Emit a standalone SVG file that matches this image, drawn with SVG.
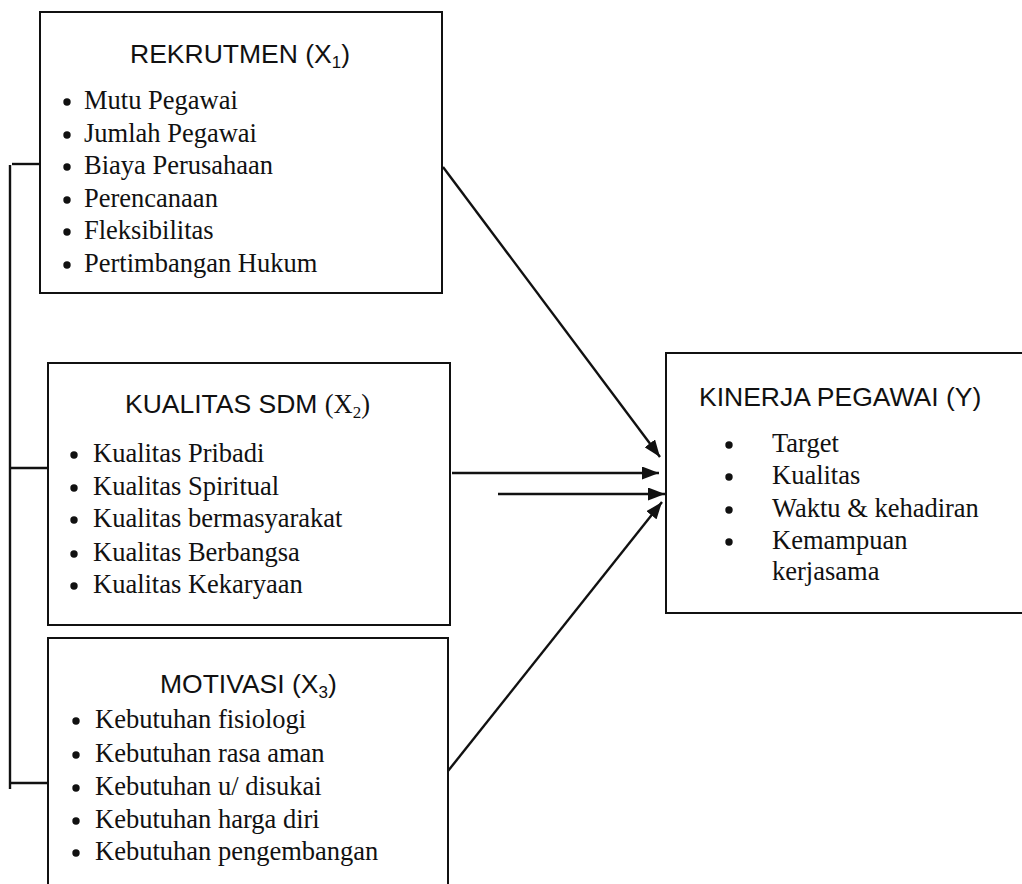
<svg xmlns="http://www.w3.org/2000/svg" width="1022" height="884" viewBox="0 0 1022 884">
<style>
.box{fill:#fff;stroke:#111;stroke-width:2}
.ttl{font-family:"Liberation Sans",Arial,sans-serif;font-size:26.5px;fill:#111}
.tms{font-family:"Liberation Serif","Times New Roman",serif}
.sub{font-size:17px}
.it{font-family:"Liberation Serif","Times New Roman",serif;font-size:26.5px;fill:#111}
.bl{fill:#111}
.ln{fill:none;stroke:#111;stroke-width:2.4}
</style>
<defs>
<marker id="ah" viewBox="0 0 17 13" refX="17" refY="6.5" markerWidth="17" markerHeight="13" markerUnits="userSpaceOnUse" orient="auto">
<path d="M0,0 L17,6.5 L0,13 Z" fill="#111"/>
</marker>
</defs>
<rect width="1022" height="884" fill="#fff"/>

<g id="connectors">
<line class="ln" x1="12" y1="164" x2="41" y2="164"/>
<line class="ln" x1="10" y1="165" x2="10" y2="789"/>
<line class="ln" x1="10" y1="468" x2="48" y2="468"/>
<line class="ln" x1="10" y1="783" x2="48" y2="783"/>
<line class="ln" x1="443" y1="167" x2="660" y2="457" marker-end="url(#ah)"/>
<line class="ln" x1="452" y1="473" x2="659" y2="473" marker-end="url(#ah)"/>
<line class="ln" x1="498" y1="494" x2="665" y2="494" marker-end="url(#ah)"/>
<line class="ln" x1="448" y1="771" x2="662" y2="502" marker-end="url(#ah)"/>
</g>

<g id="rekrutmen">
<rect class="box" x="40" y="12" width="402" height="281"/>
<text class="ttl" x="130" y="63">REKRUTMEN (X<tspan class="sub" dy="5">1</tspan><tspan dy="-5">)</tspan></text>
<circle class="bl" cx="67" cy="102" r="3.7"/>
<circle class="bl" cx="67" cy="135" r="3.7"/>
<circle class="bl" cx="67" cy="167" r="3.7"/>
<circle class="bl" cx="67" cy="200" r="3.7"/>
<circle class="bl" cx="67" cy="232" r="3.7"/>
<circle class="bl" cx="67" cy="265" r="3.7"/>
<text class="it" x="84" y="109.3">Mutu Pegawai</text>
<text class="it" x="84" y="141.7">Jumlah Pegawai</text>
<text class="it" x="84" y="174">Biaya Perusahaan</text>
<text class="it" x="84" y="206.7">Perencanaan</text>
<text class="it" x="84" y="239.3">Fleksibilitas</text>
<text class="it" x="84" y="271.7">Pertimbangan Hukum</text>
</g>

<g id="kualitas">
<rect class="box" x="48" y="363" width="402" height="262"/>
<text class="ttl" x="125" y="413.3">KUALITAS SDM <tspan class="tms">(X</tspan><tspan class="tms sub" dy="5">2</tspan><tspan class="tms" dy="-5">)</tspan></text>
<circle class="bl" cx="74" cy="455" r="3.7"/>
<circle class="bl" cx="74" cy="488" r="3.7"/>
<circle class="bl" cx="74" cy="520" r="3.7"/>
<circle class="bl" cx="74" cy="554" r="3.7"/>
<circle class="bl" cx="74" cy="586" r="3.7"/>
<text class="it" x="93" y="461.7">Kualitas Pribadi</text>
<text class="it" x="93" y="495">Kualitas Spiritual</text>
<text class="it" x="93" y="527.3">Kualitas bermasyarakat</text>
<text class="it" x="93" y="560.7">Kualitas Berbangsa</text>
<text class="it" x="93" y="593.3">Kualitas Kekaryaan</text>
</g>

<g id="motivasi">
<rect class="box" x="48" y="638" width="400" height="270"/>
<text class="ttl" x="160" y="693.3">MOTIVASI (X<tspan class="sub" dy="5">3</tspan><tspan dy="-5">)</tspan></text>
<circle class="bl" cx="76" cy="721" r="3.7"/>
<circle class="bl" cx="76" cy="755" r="3.7"/>
<circle class="bl" cx="76" cy="788" r="3.7"/>
<circle class="bl" cx="76" cy="821" r="3.7"/>
<circle class="bl" cx="76" cy="853" r="3.7"/>
<text class="it" x="95" y="728.3">Kebutuhan fisiologi</text>
<text class="it" x="95" y="761.7">Kebutuhan rasa aman</text>
<text class="it" x="95" y="795">Kebutuhan u/ disukai</text>
<text class="it" x="95" y="828.3">Kebutuhan harga diri</text>
<text class="it" x="95" y="860">Kebutuhan pengembangan</text>
</g>

<g id="kinerja">
<rect class="box" x="666" y="353" width="370" height="260"/>
<text class="ttl" x="699" y="405.7">KINERJA PEGAWAI (Y)</text>
<circle class="bl" cx="729" cy="445" r="3.7"/>
<circle class="bl" cx="729" cy="477" r="3.7"/>
<circle class="bl" cx="729" cy="510" r="3.7"/>
<circle class="bl" cx="729" cy="542" r="3.7"/>
<text class="it" x="772" y="451.7">Target</text>
<text class="it" x="772" y="484">Kualitas</text>
<text class="it" x="772" y="516.7">Waktu &amp; kehadiran</text>
<text class="it" x="772" y="549.3">Kemampuan</text>
<text class="it" x="772" y="580">kerjasama</text>
</g>
</svg>
